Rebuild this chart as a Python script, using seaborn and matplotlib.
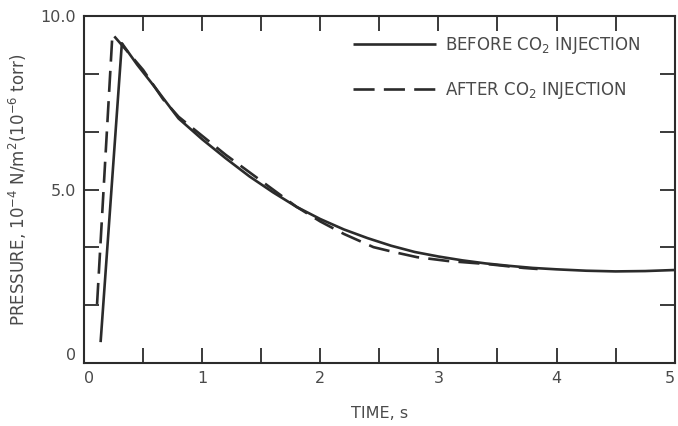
import numpy as np
import pandas as pd
import matplotlib
matplotlib.use("Agg")
import matplotlib.pyplot as plt
import seaborn as sns

# Data
before_x = [0.14, 0.32, 0.45, 0.6, 0.8, 1.0, 1.2, 1.4, 1.6, 1.8, 2.0, 2.2, 2.4, 2.6,
            2.8, 3.0, 3.2, 3.4, 3.6, 3.8, 4.0, 4.25, 4.5, 4.75, 5.0]
before_y = [0.6, 9.22, 8.6, 7.95, 7.05, 6.45, 5.9, 5.38, 4.92, 4.5, 4.15, 3.85, 3.6, 3.38,
            3.2, 3.07, 2.96, 2.87, 2.8, 2.74, 2.7, 2.66, 2.64, 2.65, 2.68]
after_x = [0.11, 0.24, 0.35, 0.5, 0.67, 0.8, 1.0, 1.2, 1.4, 1.6, 1.8, 2.0, 2.2, 2.45,
           2.62, 2.82, 3.08, 3.42, 3.72, 3.84]
after_y = [1.7, 9.48, 9.05, 8.45, 7.6, 7.1, 6.55, 6.0, 5.5, 5.0, 4.5, 4.08, 3.72, 3.34,
           3.2, 3.05, 2.94, 2.85, 2.74, 2.71]
series_labels = ["BEFORE CO$_2$ INJECTION", "AFTER CO$_2$ INJECTION"]
x_ticklabels = ["0", "1", "2", "3", "4", "5"]
y_ticklabels = ["0", "5.0", "10.0"]

df = pd.concat([
    pd.DataFrame({"t": before_x, "p": before_y, "s": series_labels[0]}),
    pd.DataFrame({"t": after_x, "p": after_y, "s": series_labels[1]}),
])

sns.set_theme(style="white")
plt.rcParams["font.family"] = ["DejaVu Sans"]
txt = "#4a4a4a"
line_c = "#2b2b2b"

fig = plt.figure(figsize=(6.78, 4.26), dpi=100)
ax = fig.add_axes([0.124, 0.148, 0.871, 0.814])

sns.lineplot(data=df, x="t", y="p", hue="s", style="s", sort=False,
             palette=[line_c, line_c], dashes=[(1, 0), (8, 3.5)],
             linewidth=1.9, ax=ax, legend=True, estimator=None)

ax.set_xlim(0, 5)
ax.set_ylim(0, 10)
ax.set_xticks(np.arange(0, 5.01, 0.5))
ax.set_xticklabels([x_ticklabels[i // 2] if i % 2 == 0 else "" for i in range(11)])
yt = np.linspace(0, 10, 7)
ax.set_yticks(yt)
ax.set_yticklabels([y_ticklabels[0], "", "", y_ticklabels[1], "", "", y_ticklabels[2]])
ax.tick_params(axis="both", which="both", direction="in", length=11, width=1.3,
               color=line_c, top=True, right=True, bottom=True, left=True,
               labelsize=11.5, labelcolor=txt, pad=6)
ax.get_yticklabels()[0].set_va("bottom")
xl = ax.get_xticklabels()
xl[-1].set_ha("right")
xl[0].set_ha("left")
for sp in ax.spines.values():
    sp.set_color(line_c)
    sp.set_linewidth(1.5)
    sp.set_visible(True)

ax.set_xlabel("TIME, s", fontsize=11.5, color=txt, labelpad=14)
ax.set_ylabel("PRESSURE, 10$^{-4}$ N/m$^2$(10$^{-6}$ torr)", fontsize=12, color=txt, labelpad=8)

leg = ax.legend(frameon=False, loc="upper right", bbox_to_anchor=(0.965, 0.985),
                fontsize=12, handlelength=5.0, handletextpad=0.55, labelspacing=1.45,
                borderaxespad=0.4)
for t in leg.get_texts():
    t.set_color(txt)
for h in leg.get_lines():
    h.set_linewidth(1.9)

fig.savefig("out.png", dpi=100, facecolor="white")
